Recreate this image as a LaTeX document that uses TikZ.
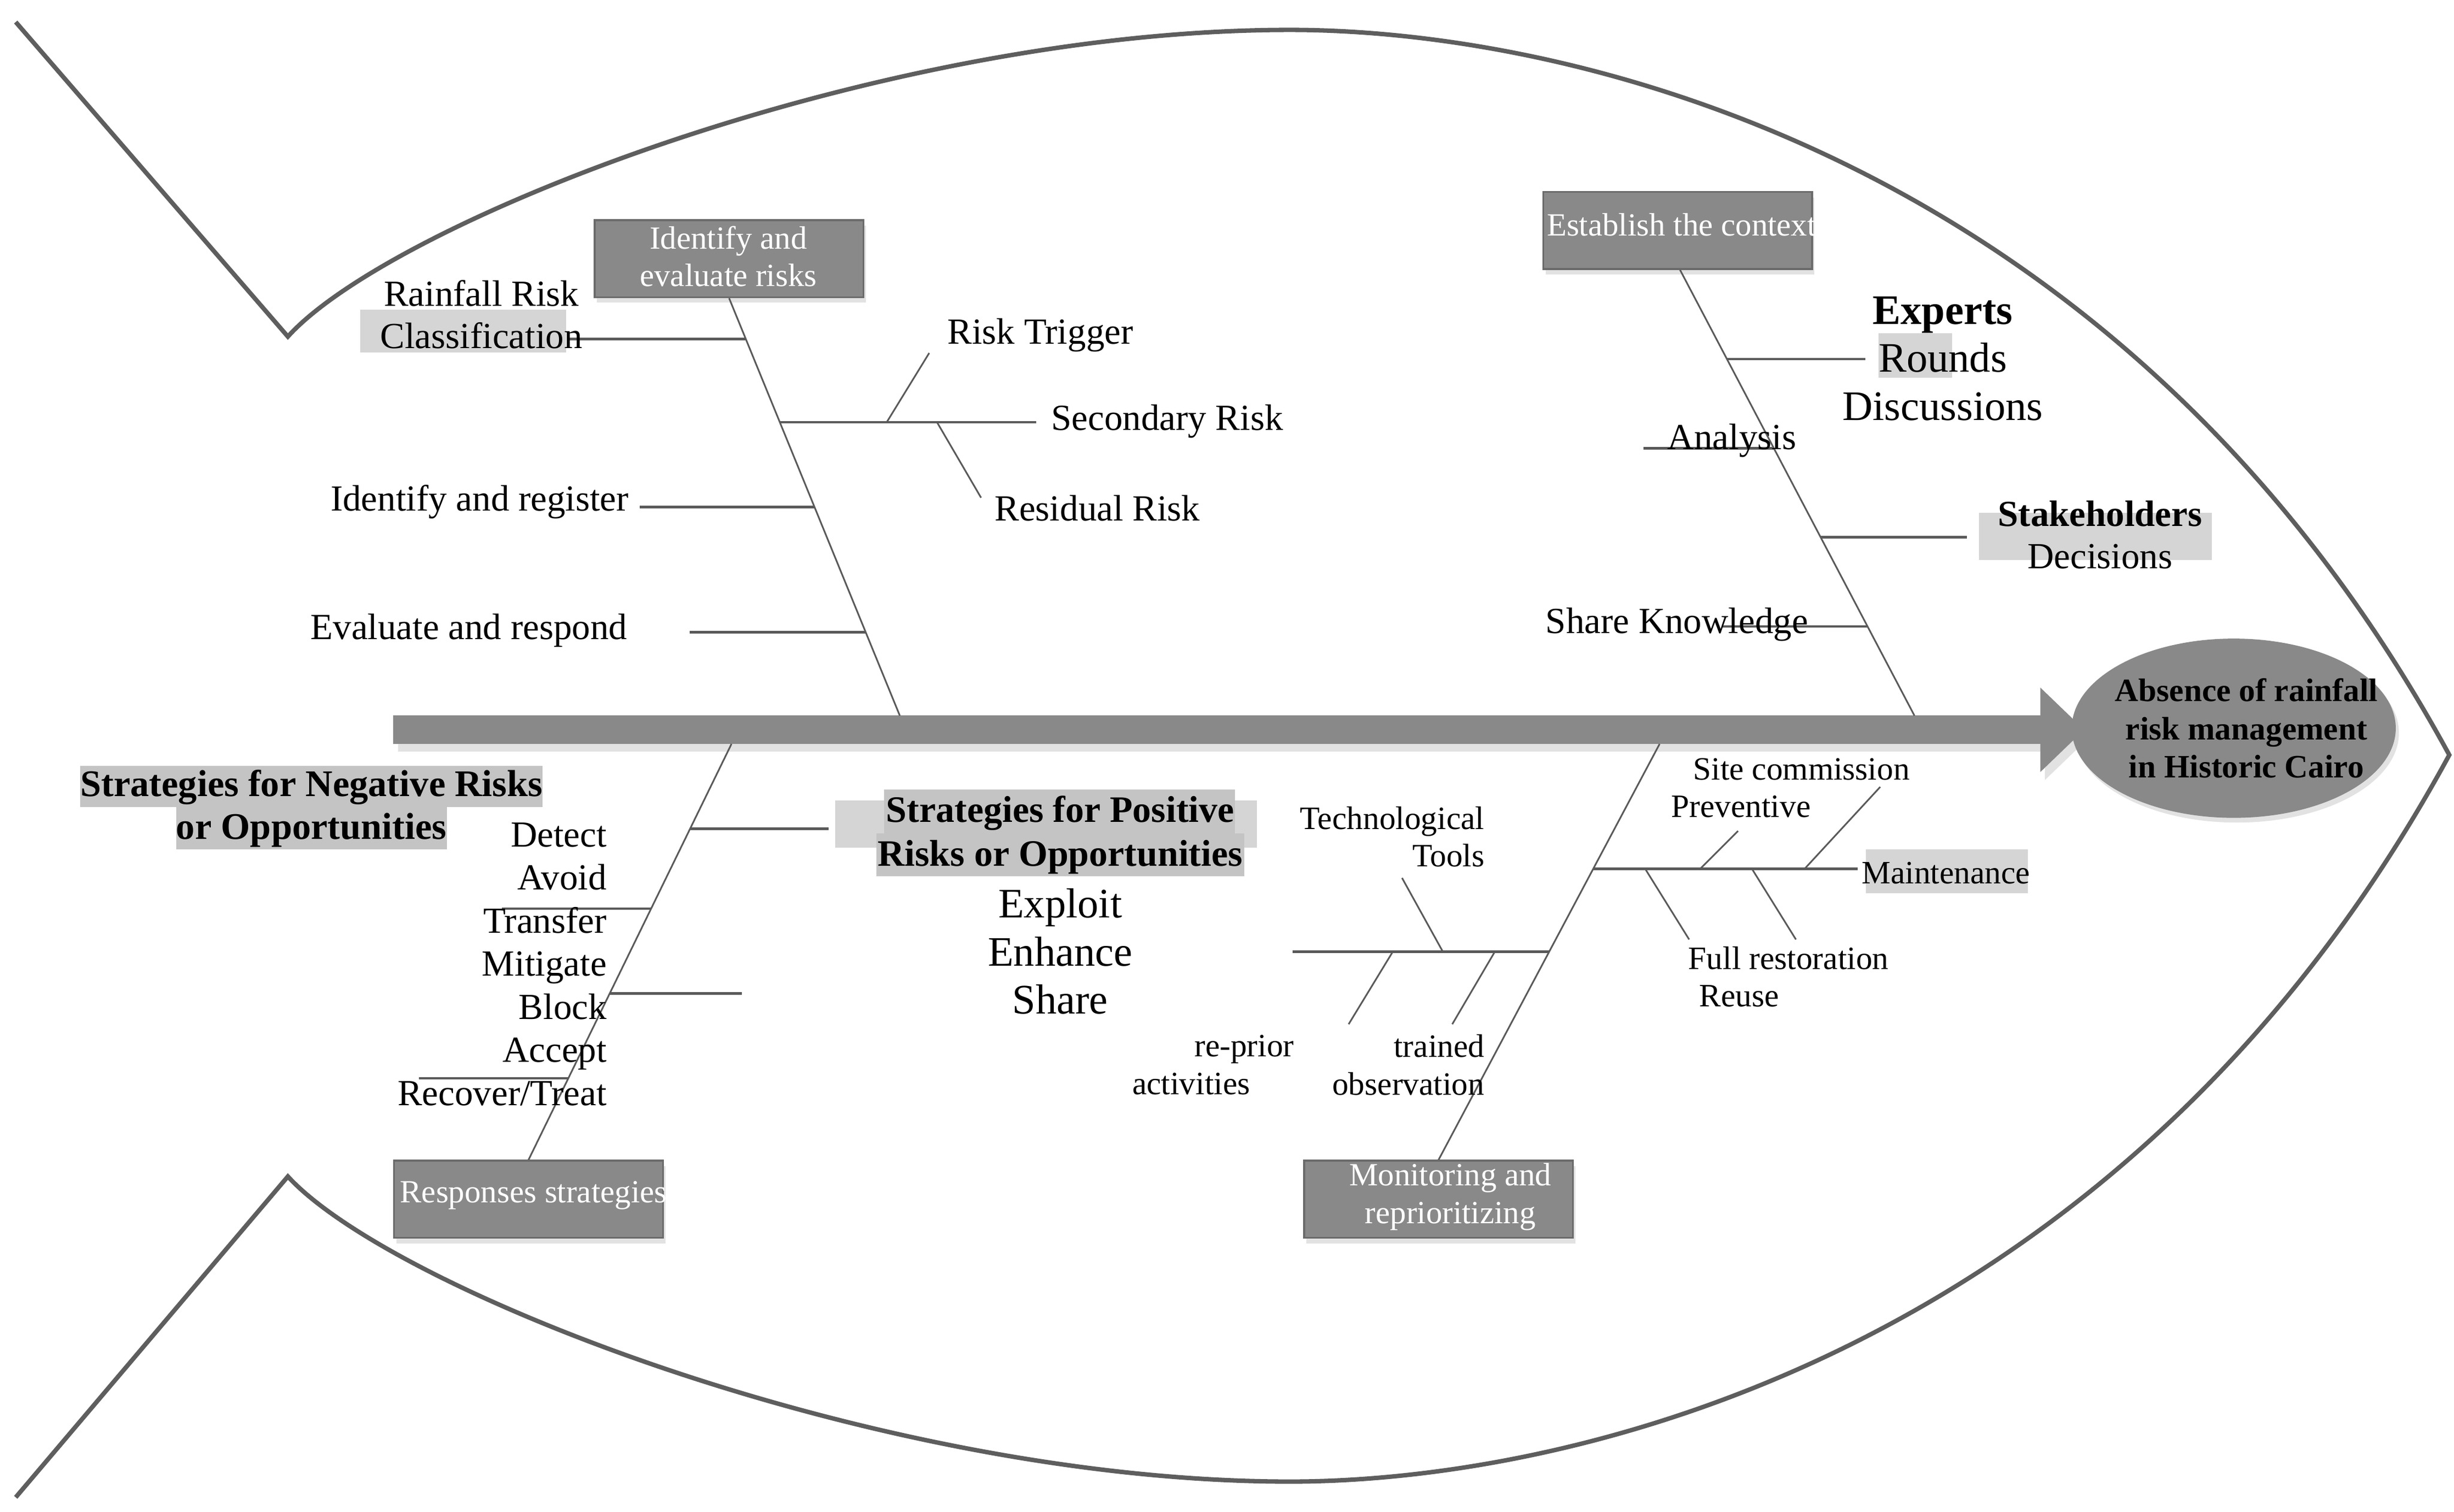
\documentclass[tikz,border=0pt]{standalone}
\usepackage{fontspec}
\setmainfont{Liberation Serif}
\usepackage{xcolor}
\usepackage{tikz}
\usetikzlibrary{arrows.meta}
\usetikzlibrary{shapes.geometric}
\usetikzlibrary{shadows}
\usetikzlibrary{calc}
\definecolor{fishgrey}{HTML}{5E5E5E}
\definecolor{bonegrey}{HTML}{5A5A5A}
\definecolor{boxgrey}{HTML}{898989}
\definecolor{boxedge}{HTML}{6B6B6B}
\definecolor{hldark}{HTML}{C4C4C4}
\definecolor{hllight}{HTML}{D5D5D5}
\definecolor{shadowgrey}{HTML}{E2E2E2}
\tikzset{
    tnode/.style = {align=center, inner sep=0pt, text centered},
    rnode/.style = {align=right, inner sep=0pt},
    lnode/.style = {align=left, inner sep=0pt},
    mid_font/.style = {font=\fontsize{13.3}{15.4}\selectfont},
    big_font/.style = {font=\fontsize{15.2}{17.4}\selectfont},
    small_font/.style = {font=\fontsize{11.8}{13.6}\selectfont},
    box_font/.style = {text=white, font=\fontsize{11.7}{13.6}\selectfont},
    grey_box/.style = {rectangle, draw=boxedge, fill=boxgrey, line width=0.7pt, inner sep=0pt, minimum width=3.42cm, minimum height=0.98cm,
        drop shadow={shadow xshift=0.03cm, shadow yshift=-0.07cm, fill=shadowgrey, opacity=1}},
    head_node/.style = {ellipse, fill=boxgrey, inner sep=0pt, minimum width=4.12cm, minimum height=2.28cm,
        drop shadow={shadow xshift=0.04cm, shadow yshift=-0.06cm, fill=shadowgrey, opacity=1}},
    head_font/.style = {font=\bfseries\fontsize{11.8}{13.9}\selectfont},
    fish/.style = {draw=fishgrey, line width=1.6pt, line join=miter},
    bone/.style = {draw=bonegrey, line width=0.6pt},
    branch/.style = {draw=bonegrey, line width=0.9pt},
    spine/.style = {draw=boxgrey, line width=0.36cm, -{Triangle[length=0.56cm, width=1.04cm]}},
    hl_dark/.style = {fill=hldark},
    hl_light/.style = {fill=hllight}
}
\begin{document}
\begin{tikzpicture}[x=0.02cm, y=-0.02cm]
\useasboundingbox (0,0) rectangle (1560,961.3);
\fill[white] (0,0) rectangle (1560,961.3);

% fish body
\draw[fish] (10,14) -- (183,214)
    .. controls (250,140) and (560,19) .. (820,19)
    .. controls (1000,19) and (1350,100) .. (1557,480)
    .. controls (1350,861) and (1000,942) .. (820,942)
    .. controls (560,942) and (250,821) .. (183,748) -- (10,952);

% spine
\coordinate (spine_tail) at (250,464);
\coordinate (spine_tip) at (1325,464);
\draw[spine, draw=shadowgrey] ([shift={(3,5)}]spine_tail) -- ([shift={(3,5)}]spine_tip);
\draw[spine] (spine_tail) -- (spine_tip);
\node[head_node] (head) at (1420,463) {};
\node[tnode, head_font] (head_txt) at (1428,463) {Absence of rainfall\\risk management\\in Historic Cairo};

% boxes
\node[grey_box] (ident) at (463.5,164.5) {};
\node[tnode, box_font] (ident_txt) at (463,163) {Identify and\\evaluate risks};
\node[grey_box] (ctx) at (1066.5,146.5) {};
\node[tnode, box_font, anchor=west] (ctx_txt) at (983,143) {Establish the context};
\node[grey_box] (resp) at (336,762.5) {};
\node[tnode, box_font, anchor=west] (resp_txt) at (254,760) {Responses strategies};
\node[grey_box] (mon) at (914.5,762.5) {};
\node[tnode, box_font] (mon_txt) at (922,761) {Monitoring and\\reprioritizing};

% highlights
\fill[hl_light] (229,197) rectangle (360,224);
\fill[hl_light] (1194,212) rectangle (1241,240);
\fill[hl_light] (1258,326) rectangle (1406,356);
\fill[hl_light] (1186,540) rectangle (1289,568);
\fill[hl_dark] (51,487) rectangle (345,513);
\fill[hl_dark] (112,513) rectangle (284,540);
\fill[hl_light] (531,509) rectangle (799,539);
\fill[hl_dark] (562,502) rectangle (785,530);
\fill[hl_dark] (557,530) rectangle (791,557);

% identify and evaluate risks
\coordinate (tl_b) at (572,455);
\draw[bone] (ident.south) -- (tl_b)
    coordinate[pos=0.098] (tl1) coordinate[pos=0.297] (tl2)
    coordinate[pos=0.5] (tl3) coordinate[pos=0.8] (tl4);
\draw[branch] (tl1) -- ++(-113,0) coordinate (cls_end);
\draw[branch] (tl2) -- ++(163,0) coordinate (sec_end)
    coordinate[pos=0.417] (sec1) coordinate[pos=0.613] (sec2);
\draw[bone] (sec1) -- ++(27,-44) coordinate (trig_end);
\draw[bone] (sec2) -- ++(28,48) coordinate (resid_end);
\draw[branch] (tl3) -- ++(-111,0) coordinate (reg_end);
\draw[branch] (tl4) -- ++(-112,0) coordinate (eval_end);
\node[tnode, mid_font] (rain) at (306,200) {Rainfall Risk\\Classification};
\node[tnode, mid_font, anchor=west] (trig) at (602,213) {Risk Trigger};
\node[tnode, mid_font, anchor=west] (sec) at (668,268) {Secondary Risk};
\node[tnode, mid_font, anchor=west] (resid) at (632,323) {Residual Risk};
\node[tnode, mid_font, anchor=east] (reg) at (400,319) {Identify and register};
\node[tnode, mid_font, anchor=east] (eval) at (399,401) {Evaluate and respond};

% establish the context
\coordinate (tr_a) at ($(ctx.south)+(1.5,0)$);
\coordinate (tr_b) at (1217,455);
\draw[bone] (tr_a) -- (tr_b)
    coordinate[pos=0.2] (tr1) coordinate[pos=0.4] (tr2)
    coordinate[pos=0.6] (tr3) coordinate[pos=0.8] (tr4);
\draw[branch] (tr1) -- ++(88,0) coordinate (exp_end);
\draw[branch] (tr2) -- ++(-83,0) coordinate (anal_end);
\draw[branch] (tr3) -- ++(93,0) coordinate (stake_end);
\draw[branch] (tr4) -- ++(-92,0) coordinate (share_end);
\node[tnode, big_font] (expert) at (1235,228) {\textbf{Experts}\\Rounds\\Discussions};
\node[tnode, mid_font] (anal) at (1101,280) {Analysis};
\node[tnode, mid_font] (stake) at (1335,340) {\textbf{Stakeholders}\\Decisions};
\node[tnode, mid_font] (share) at (1066,397) {Share Knowledge};

% responses strategies
\coordinate (bl_a) at (465,473);
\draw[bone] (bl_a) -- (resp.north)
    coordinate[pos=0.204] (bl1) coordinate[pos=0.396] (bl2)
    coordinate[pos=0.6] (bl3) coordinate[pos=0.804] (bl4);
\draw[branch] (bl1) -- ++(88,0) coordinate (pos_end);
\draw[branch] (bl2) -- ++(-95,0) coordinate (neg1_end);
\draw[branch] (bl3) -- ++(84,0) coordinate (neg2_end);
\draw[branch] (bl4) -- ++(-95,0) coordinate (neg3_end);
\node[tnode, font=\bfseries\fontsize{13.6}{15.4}\selectfont] (neg) at (198,514) {Strategies for Negative Risks\\or Opportunities};
\node[rnode, font=\fontsize{13.3}{15.6}\selectfont, anchor=east] (neg_list) at (386,613) {Detect\\Avoid\\Transfer\\Mitigate\\Block\\Accept\\Recover/Treat};
\node[tnode, font=\bfseries\fontsize{13.5}{15.9}\selectfont] (pos) at (674,531) {Strategies for Positive\\Risks or Opportunities};
\node[tnode, big_font] (pos_list) at (674,605) {Exploit\\Enhance\\Share};

% monitoring and reprioritizing
\coordinate (br_a) at (1055,473);
\draw[bone] (br_a) -- (mon.north)
    coordinate[pos=0.3] (br1) coordinate[pos=0.5] (br2);
\draw[branch] (br1) -- ++(168,0) coordinate (mnt_end)
    coordinate[pos=0.196] (mnt1) coordinate[pos=0.405] (mnt2)
    coordinate[pos=0.6] (mnt3) coordinate[pos=0.8] (mnt4);
\draw[bone] (mnt1) -- ++(28,45) coordinate (full_end);
\draw[bone] (mnt2) -- ++(24,-24) coordinate (prev_end);
\draw[bone] (mnt3) -- ++(28,45) coordinate (reuse_end);
\draw[bone] (mnt4) -- ++(48,-52) coordinate (site_end);
\draw[branch] (br2) -- ++(-163,0) coordinate (tech_end)
    coordinate[pos=0.212] (tk1) coordinate[pos=0.414] (tk2) coordinate[pos=0.61] (tk3);
\draw[bone] (tk1) -- ++(-27,46) coordinate (train_end);
\draw[bone] (tk2) -- ++(-26,-47) coordinate (tool_end);
\draw[bone] (tk3) -- ++(-28,46) coordinate (prior_end);
\node[tnode, small_font] (mnt) at (1237,555) {Maintenance};
\node[lnode, small_font, anchor=west] (site) at (1062,501) {\hspace*{0.28cm}Site commission\\Preventive};
\node[lnode, small_font, anchor=west] (full) at (1073,621) {Full restoration\\\hspace*{0.14cm}Reuse};
\node[rnode, small_font, anchor=east] (tech) at (944,532) {Technological\\Tools};
\node[rnode, small_font, anchor=east] (train) at (944,677) {trained\\observation};
\node[rnode, small_font, anchor=east] (prior) at (823,677) {re-prior\\activities\hspace*{0.56cm}};
\end{tikzpicture}
\end{document}
